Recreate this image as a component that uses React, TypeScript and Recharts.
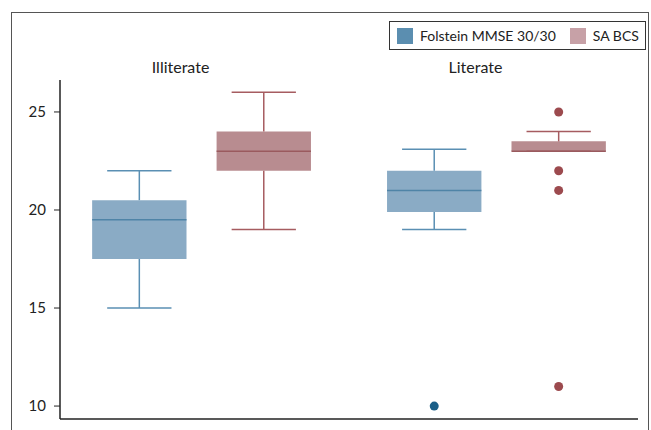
import React from 'react';
import {
  ComposedChart,
  XAxis,
  YAxis,
  ReferenceArea,
  ReferenceLine,
  Scatter,
} from 'recharts';

const categories = ['Illiterate', 'Literate'];

// Folstein MMSE 30/30
const mmseLow = [15, 19];
const mmseQ1 = [17.5, 19.9];
const mmseMedian = [19.5, 21];
const mmseQ3 = [20.5, 22];
const mmseHigh = [22, 23.1];
const mmseOutliers = [[], [10]];

// SA BCS
const bcsLow = [19, 23];
const bcsQ1 = [22, 23];
const bcsMedian = [23, 23];
const bcsQ3 = [24, 23.5];
const bcsHigh = [26, 24];
const bcsOutliers = [[], [25, 22, 21, 11]];

const yTicks = [10, 15, 20, 25];

const FONT = 'Lato, "Open Sans", sans-serif';
const OFFSET = 0.211;
const HALF = 0.16;
const CAP = 0.109;

const series = [
  {
    name: 'Folstein MMSE 30/30',
    low: mmseLow, q1: mmseQ1, med: mmseMedian, q3: mmseQ3, high: mmseHigh, out: mmseOutliers,
    shift: -OFFSET,
    fill: '#8aabc5', median: '#4f84a7', whisker: '#5a8fb3', dot: '#1b5f88', legend: '#5b8eb0',
  },
  {
    name: 'SA BCS',
    low: bcsLow, q1: bcsQ1, med: bcsMedian, q3: bcsQ3, high: bcsHigh, out: bcsOutliers,
    shift: OFFSET,
    fill: '#b88c90', median: '#9a5a5e', whisker: '#a65c60', dot: '#9c4a4e', legend: '#c7a1a7',
  },
];

function boxes(s: typeof series[number]) {
  const els: React.ReactNode[] = [];
  categories.forEach((_, i) => {
    const c = i + 0.5 + s.shift;
    const k = `${s.name}-${i}`;
    els.push(
      <ReferenceLine key={k + 'wl'} segment={[{ x: c, y: s.low[i] }, { x: c, y: s.q1[i] }]} stroke={s.whisker} strokeWidth={1.5} />,
      <ReferenceLine key={k + 'wh'} segment={[{ x: c, y: s.q3[i] }, { x: c, y: s.high[i] }]} stroke={s.whisker} strokeWidth={1.5} />,
      <ReferenceLine key={k + 'cl'} segment={[{ x: c - CAP, y: s.low[i] }, { x: c + CAP, y: s.low[i] }]} stroke={s.whisker} strokeWidth={1.5} />,
      <ReferenceLine key={k + 'ch'} segment={[{ x: c - CAP, y: s.high[i] }, { x: c + CAP, y: s.high[i] }]} stroke={s.whisker} strokeWidth={1.5} />,
      <ReferenceArea key={k + 'b'} x1={c - HALF} x2={c + HALF} y1={s.q1[i]} y2={s.q3[i]} fill={s.fill} fillOpacity={1} stroke="none" />,
      <ReferenceLine key={k + 'm'} segment={[{ x: c - HALF, y: s.med[i] }, { x: c + HALF, y: s.med[i] }]} stroke={s.median} strokeWidth={1.5} />,
    );
  });
  return els;
}

export default function App() {
  return (
    <div style={{ position: 'absolute', left: 0, top: 0, width: 651, height: 430, background: '#fff', overflow: 'hidden' }}>
      <div
        style={{
          position: 'absolute', left: 11, top: 12, width: 638, height: 440,
          border: '1px solid #555', boxSizing: 'border-box',
        }}
      />
      <ComposedChart width={651} height={430} margin={{ top: 80, right: 13, bottom: 10, left: 0 }}>
        <XAxis
          type="number"
          dataKey="x"
          domain={[0.02, 1.98]}
          allowDataOverflow
          tick={false}
          tickLine={false}
          height={1}
          axisLine={{ stroke: '#222', strokeWidth: 1.5 }}
        />
        <YAxis
          type="number"
          dataKey="y"
          domain={[9.34, 26.63]}
          allowDataOverflow
          ticks={yTicks}
          width={60}
          tickSize={6}
          tickMargin={8}
          axisLine={{ stroke: '#222', strokeWidth: 1.5 }}
          tickLine={{ stroke: '#222' }}
          tick={{ fontFamily: FONT, fontSize: 15, fill: '#222' }}
        />
        {categories.map((cat, i) => (
          <ReferenceLine
            key={cat}
            x={i + 0.5}
            stroke="none"
            label={{ value: cat, position: 'top', offset: 7, dx: -21, fontFamily: FONT, fontSize: 16, fill: '#222' }}
          />
        ))}
        {series.map((s) => boxes(s))}
        {series.map((s) => (
          <Scatter
            key={s.name + 'out'}
            name={s.name}
            data={s.out.flatMap((vals, i) => vals.map((v) => ({ x: i + 0.5 + s.shift, y: v })))}
            isAnimationActive={false}
            shape={(p: any) => <circle cx={p.cx} cy={p.cy} r={4.5} fill={s.dot} />}
          />
        ))}
      </ComposedChart>
      <div
        style={{
          position: 'absolute', left: 389, top: 21, width: 257, height: 29,
          border: '1px solid #333', boxSizing: 'border-box', whiteSpace: 'nowrap',
          display: 'flex', alignItems: 'center', fontFamily: FONT, fontSize: 14, color: '#222',
        }}
      >
        {series.map((s, i) => (
          <div key={s.name} style={{ display: 'flex', alignItems: 'center', flexShrink: 0, marginLeft: i === 0 ? 7 : 14 }}>
            <div style={{ width: 16, height: 16, background: s.legend, marginRight: 7 }} />
            <span>{s.name}</span>
          </div>
        ))}
      </div>
    </div>
  );
}
